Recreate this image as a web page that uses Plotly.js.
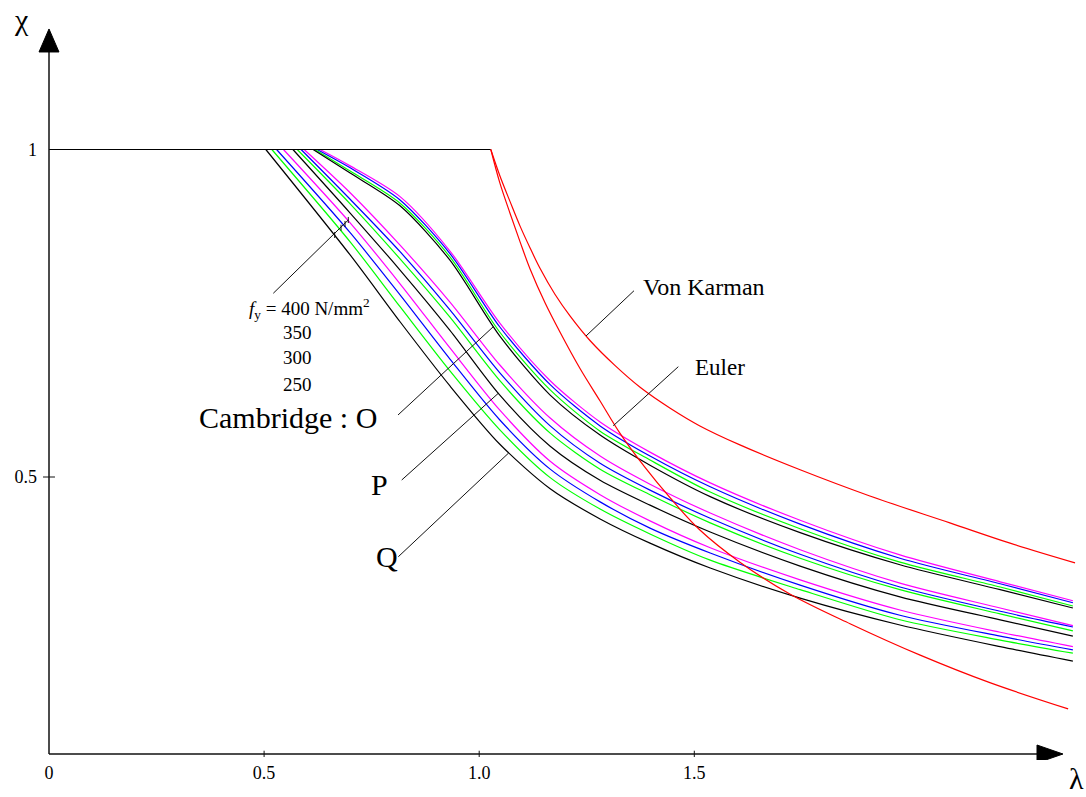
<!DOCTYPE html>
<html><head><meta charset="utf-8">
<script src="https://cdn.plot.ly/plotly-3.0.1.min.js"></script>
<style>html,body{margin:0;padding:0;background:#fff}#chart{width:1086px;height:797px}</style>
</head><body><div id="chart"></div>
<script>
// ---- data ----
const lambdaGrid = [0.700, 0.816, 0.932, 1.048, 1.165, 1.281, 1.397, 1.537, 1.746, 1.978, 2.211, 2.380];
const fyLabels = ['400', '350', '300', '250'];
const fyColors = ['#ff00ff', '#0000ff', '#00ff00', '#000000'];

// Cambridge curve O  (start lambda at chi = 1, then chi on lambdaGrid) ; order fy 400, 350, 300, 250
const O_start = [0.630, 0.623, 0.618, 0.614];
const O_fy400 = [0.975, 0.928, 0.845, 0.735, 0.647, 0.584, 0.538, 0.491, 0.434, 0.381, 0.340, 0.311];
const O_fy350 = [0.972, 0.923, 0.841, 0.729, 0.641, 0.578, 0.532, 0.485, 0.428, 0.376, 0.337, 0.308];
const O_fy300 = [0.967, 0.918, 0.836, 0.721, 0.633, 0.570, 0.526, 0.477, 0.421, 0.370, 0.332, 0.303];
const O_fy250 = [0.964, 0.914, 0.831, 0.715, 0.625, 0.564, 0.518, 0.470, 0.415, 0.366, 0.328, 0.300];

// Cambridge curve P
const P_start = [0.593, 0.586, 0.577, 0.567];
const P_fy400 = [0.934, 0.854, 0.767, 0.671, 0.590, 0.532, 0.489, 0.445, 0.389, 0.338, 0.300, 0.273];
const P_fy350 = [0.924, 0.844, 0.755, 0.659, 0.578, 0.521, 0.480, 0.437, 0.382, 0.332, 0.295, 0.271];
const P_fy300 = [0.917, 0.833, 0.744, 0.647, 0.567, 0.512, 0.473, 0.430, 0.376, 0.328, 0.291, 0.265];
const P_fy250 = [0.903, 0.816, 0.724, 0.625, 0.547, 0.495, 0.457, 0.416, 0.364, 0.317, 0.282, 0.257];

// Cambridge curve Q
const Q_start = [0.545, 0.529, 0.518, 0.504];
const Q_fy400 = [0.888, 0.795, 0.697, 0.602, 0.524, 0.473, 0.433, 0.392, 0.343, 0.297, 0.263, 0.241];
const Q_fy350 = [0.873, 0.778, 0.680, 0.587, 0.512, 0.462, 0.422, 0.384, 0.335, 0.289, 0.257, 0.236];
const Q_fy300 = [0.859, 0.760, 0.662, 0.572, 0.499, 0.451, 0.413, 0.373, 0.328, 0.282, 0.251, 0.231];
const Q_fy250 = [0.839, 0.737, 0.639, 0.550, 0.482, 0.436, 0.399, 0.361, 0.315, 0.274, 0.241, 0.219];

// plateau, Euler and Von Karman
const plateauLambda = [0, 1.027];
const plateauChi = [1, 1];
const eulerLambda = [1.027, 1.048, 1.072, 1.095, 1.118, 1.153, 1.188, 1.234, 1.281, 1.327, 1.385, 1.444, 1.513, 1.606, 1.723, 1.862, 2.025, 2.187, 2.369];
const eulerChi    = [1.000, 0.949, 0.902, 0.859, 0.818, 0.766, 0.721, 0.666, 0.616, 0.567, 0.515, 0.468, 0.419, 0.370, 0.321, 0.276, 0.228, 0.186, 0.146];
const vkLambda = [1.027, 1.048, 1.072, 1.095, 1.118, 1.141, 1.176, 1.211, 1.258, 1.316, 1.374, 1.444, 1.513, 1.606, 1.746, 1.908, 2.094, 2.234, 2.385];
const vkChi    = [1.000, 0.960, 0.920, 0.883, 0.850, 0.819, 0.779, 0.746, 0.708, 0.670, 0.637, 0.605, 0.578, 0.549, 0.511, 0.471, 0.430, 0.399, 0.369];

// ticks
const xTickVals = [0, 0.5, 1.0, 1.5];
const xTickText = ['0', '0.5', '1.0', '1.5'];
const yTickVals = [0.5, 1];
const yTickText = ['0.5', '1'];

// ---- traces ----
const FONT = 'Liberation Serif';
const traces = [];
function addGroup(name, starts, series) {
  series.forEach((vals, i) => {
    traces.push({
      type: 'scatter', mode: 'lines', name: name + ' fy=' + fyLabels[i],
      x: [starts[i]].concat(lambdaGrid),
      y: [1].concat(vals),
      line: {color: fyColors[i], width: 1.2, shape: 'spline', smoothing: 0.8},
      hoverinfo: 'skip'
    });
  });
}
addGroup('Q', Q_start, [Q_fy400, Q_fy350, Q_fy300, Q_fy250]);
addGroup('P', P_start, [P_fy400, P_fy350, P_fy300, P_fy250]);
addGroup('O', O_start, [O_fy400, O_fy350, O_fy300, O_fy250]);
traces.push({type: 'scatter', mode: 'lines', name: 'plateau', x: plateauLambda, y: plateauChi,
  line: {color: '#000', width: 1.2}, hoverinfo: 'skip'});
traces.push({type: 'scatter', mode: 'lines', name: 'Euler', x: eulerLambda, y: eulerChi,
  line: {color: '#ff0000', width: 1.2, shape: 'spline', smoothing: 1}, hoverinfo: 'skip'});
traces.push({type: 'scatter', mode: 'lines', name: 'Von Karman', x: vkLambda, y: vkChi,
  line: {color: '#ff0000', width: 1.2, shape: 'spline', smoothing: 1}, hoverinfo: 'skip'});

// ---- shapes ----
const AX = {color: '#111', width: 1.5};
const LD = {color: '#111', width: 1};
const shapes = [
  {type: 'line', xref: 'x', yref: 'y', x0: 0, x1: 2.2966, y0: 0.0771, y1: 0.0771, line: AX},
  {type: 'line', xref: 'x', yref: 'y', x0: 0, x1: 0, y0: 0.0771, y1: 1.1489, line: AX},
  {type: 'path', xref: 'x', yref: 'y', path: 'M 2.2966,0.0908 L 2.3570,0.0771 L 2.2966,0.0634 Z', fillcolor: '#000', line: {color: '#000', width: 1}},
  {type: 'path', xref: 'x', yref: 'y', path: 'M -0.0232,1.1489 L 0,1.1840 L 0.0232,1.1489 Z', fillcolor: '#000', line: {color: '#000', width: 1}},
  // tick marks
  {type: 'line', xref: 'x', yref: 'y', x0: 0.5, x1: 0.5, y0: 0.0725, y1: 0.0821, line: LD},
  {type: 'line', xref: 'x', yref: 'y', x0: 1.0, x1: 1.0, y0: 0.0725, y1: 0.0821, line: LD},
  {type: 'line', xref: 'x', yref: 'y', x0: 1.5, x1: 1.5, y0: 0.0725, y1: 0.0821, line: LD},
  {type: 'line', xref: 'x', yref: 'y', x0: -0.0139, x1: 0.0139, y0: 0.5, y1: 0.5, line: LD},
  // leader lines
  {type: 'line', xref: 'x', yref: 'y', x0: 0.5214, y0: 0.7805, x1: 0.6957, y1: 0.8924, line: LD},
  {type: 'line', xref: 'x', yref: 'y', x0: 0.8113, y0: 0.5947, x1: 1.0328, y1: 0.7295, line: LD},
  {type: 'line', xref: 'x', yref: 'y', x0: 0.8199, y0: 0.4954, x1: 1.0444, y1: 0.6278, line: LD},
  {type: 'line', xref: 'x', yref: 'y', x0: 0.8120, y0: 0.3783, x1: 1.0677, y1: 0.5362, line: LD},
  {type: 'line', xref: 'x', yref: 'y', x0: 1.3598, y0: 0.7844, x1: 1.2483, y1: 0.7153, line: LD},
  {type: 'line', xref: 'x', yref: 'y', x0: 1.4628, y0: 0.6684, x1: 1.3117, y1: 0.5783, line: LD},
  // fy crossing marks
  {type: 'line', xref: 'x', yref: 'y', x0: 0.6641, x1: 0.6641, y0: 0.8649, y1: 0.8741, line: LD},
  {type: 'line', xref: 'x', yref: 'y', x0: 0.6788, x1: 0.6788, y0: 0.8760, y1: 0.8852, line: LD},
  {type: 'line', xref: 'x', yref: 'y', x0: 0.6881, x1: 0.6881, y0: 0.8817, y1: 0.8909, line: LD},
  {type: 'line', xref: 'x', yref: 'y', x0: 0.6957, x1: 0.6957, y0: 0.8878, y1: 0.8970, line: LD}
];

// ---- annotations ----
function txt(text, x, y, size) {
  return {text: text, x: x, y: y, xref: 'x', yref: 'y', xanchor: 'left', yanchor: 'middle',
    showarrow: false, font: {family: FONT, size: size, color: '#000'}};
}
const annotations = [
  txt('Von Karman', 1.3761, 0.7908, 24),
  txt('Euler', 1.4977, 0.6679, 23),
  txt('Cambridge : O', 0.3440, 0.5901, 30),
  txt('P', 0.7446, 0.4893, 30),
  txt('Q', 0.7555, 0.3779, 30),
  txt('<i>f</i><sub>y</sub> = ' + fyLabels[0] + ' N/mm<sup>2</sup>', 0.4610, 0.7565, 19),
  txt(fyLabels[1], 0.5386, 0.7206, 19),
  txt(fyLabels[2], 0.5386, 0.6824, 19),
  txt(fyLabels[3], 0.5386, 0.6412, 19),
  {text: 'χ', xref: 'paper', yref: 'paper', x: -0.0162, y: 0.9750, xanchor: 'center', yanchor: 'middle',
    showarrow: false, font: {family: FONT, size: 30, color: '#000'}},
  {text: 'λ', xref: 'paper', yref: 'paper', x: 0.9905, y: -0.0250, xanchor: 'center', yanchor: 'middle',
    showarrow: false, font: {family: FONT, size: 30, color: '#000'}}
];

const layout = {
  width: 1086, height: 797,
  margin: {l: 38, r: 0, t: 0, b: 37, pad: 0},
  paper_bgcolor: '#ffffff', plot_bgcolor: '#ffffff',
  showlegend: false,
  font: {family: FONT, size: 18, color: '#000'},
  xaxis: {range: [-0.02557, 2.41050], showgrid: false, zeroline: false, showline: false, ticks: '',
    tickmode: 'array', tickvals: xTickVals, ticktext: xTickText,
    tickfont: {family: FONT, size: 18, color: '#000'}, fixedrange: true},
  yaxis: {range: [0.06794, 1.22824], showgrid: false, zeroline: false, showline: false, ticks: '',
    tickmode: 'array', tickvals: yTickVals, ticktext: yTickText,
    tickfont: {family: FONT, size: 18, color: '#000'}, fixedrange: true},
  shapes: shapes,
  annotations: annotations
};

Plotly.newPlot('chart', traces, layout, {staticPlot: true, displayModeBar: false});
</script>
</body></html>
